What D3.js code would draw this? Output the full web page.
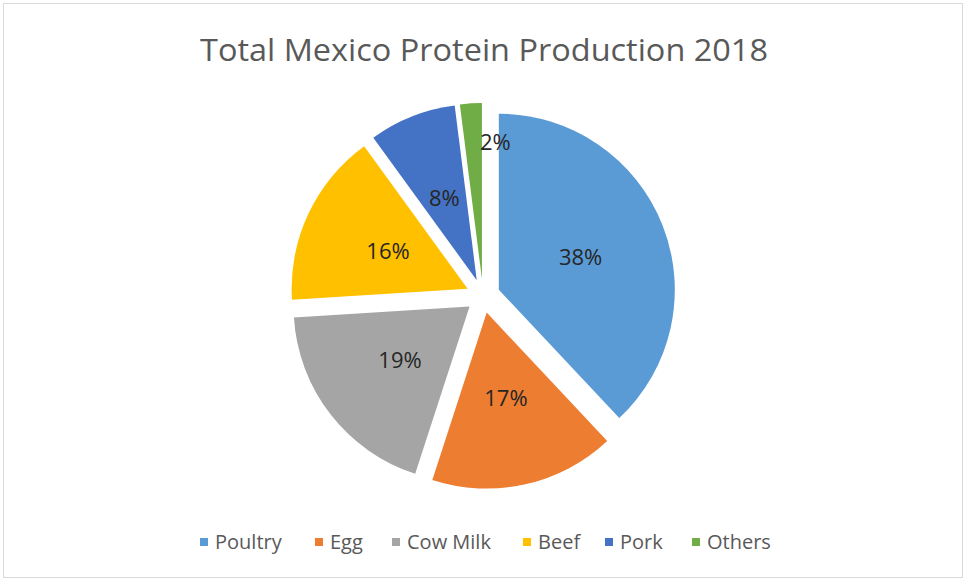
<!DOCTYPE html>
<html lang="en">

<head>
    <meta charset="UTF-8">
    <title>Total Mexico Protein Production 2018</title>
    <script src="https://d3js.org/d3.v7.min.js"></script>
    <style>
        body { margin: 0; background: #fff; }
        svg { display: block; }
    </style>
</head>

<body>
    <script>
        var width = 965, height = 580;

        // data
        var categories = ['Poultry', 'Egg', 'Cow Milk', 'Beef', 'Pork', 'Others'];
        var shares = [38, 17, 19, 16, 8, 2];
        var colors = ['#5B9BD5', '#ED7D31', '#A5A5A5', '#FFC000', '#4472C4', '#70AD47'];

        var title = 'Total Mexico Protein Production 2018';
        var font = 'Open Sans, Noto Sans, sans-serif';

        var cx = 483, cy = 296, radius = 176, explode = 17;

        var svg = d3.select('body').append('svg')
            .attr('width', width).attr('height', height);

        // light chart-area frame
        svg.append('rect')
            .attr('x', 3.5).attr('y', 3.5)
            .attr('width', width - 6).attr('height', height - 6)
            .attr('fill', 'none').attr('stroke', '#d9d9d9').attr('stroke-width', 1);

        svg.append('text')
            .attr('x', 484).attr('y', 61)
            .attr('text-anchor', 'middle')
            .attr('font-family', font).attr('font-size', 31)
            .attr('fill', '#595959')
            .attr('textLength', 568).attr('lengthAdjust', 'spacingAndGlyphs')
            .text(title);

        var data = categories.map(function (c, i) {
            return { name: c, value: shares[i], color: colors[i] };
        });

        var pie = d3.pie().sort(null).value(function (d) { return d.value; });
        var arc = d3.arc().innerRadius(0).outerRadius(radius);
        var arcs = pie(data);

        function offset(d, dist) {
            var a = (d.startAngle + d.endAngle) / 2;
            return [Math.sin(a) * dist, -Math.cos(a) * dist];
        }

        var g = svg.append('g').attr('transform', 'translate(' + cx + ',' + cy + ')');

        var slice = g.selectAll('g.slice').data(arcs).join('g')
            .attr('class', 'slice')
            .attr('transform', function (d) {
                var o = offset(d, explode);
                return 'translate(' + o[0] + ',' + o[1] + ')';
            });

        slice.append('path')
            .attr('d', arc)
            .attr('fill', function (d) { return d.data.color; });

        // labels sit half way out; the tiny "Others" one is pushed clear like Excel does
        slice.append('text')
            .attr('transform', function (d) {
                var a = (d.startAngle + d.endAngle) / 2, r = radius / 2;
                if (d.data.name === 'Others') { a += 0.16; r = radius * 0.78; }
                return 'translate(' + (Math.sin(a) * r) + ',' + (-Math.cos(a) * r) + ')';
            })
            .attr('text-anchor', 'middle')
            .attr('dy', '0.35em')
            .attr('font-family', font).attr('font-size', 22)
            .attr('fill', '#262626')
            .text(function (d) { return d.data.value + '%'; });

        // legend
        var legend = svg.append('g').attr('transform', 'translate(0,542)');
        var itemX = [204, 319, 396, 527, 609, 696];
        var item = legend.selectAll('g').data(data).join('g')
            .attr('transform', function (d, i) { return 'translate(' + itemX[i] + ',0)'; });
        item.append('rect')
            .attr('x', -4).attr('y', -4).attr('width', 8).attr('height', 8)
            .attr('fill', function (d) { return d.color; });
        item.append('text')
            .attr('x', 11).attr('dy', '0.35em')
            .attr('font-family', font).attr('font-size', 20)
            .attr('fill', '#595959')
            .text(function (d) { return d.name; });
    </script>
</body>

</html>
